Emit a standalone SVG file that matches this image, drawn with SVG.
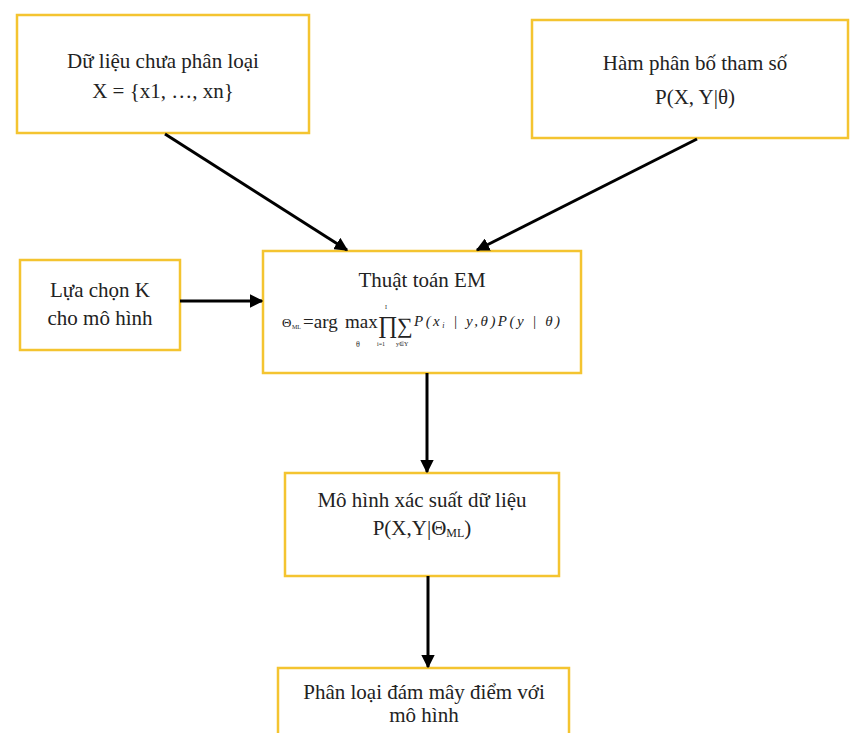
<svg xmlns="http://www.w3.org/2000/svg" width="856" height="733" viewBox="0 0 856 733">
<defs>
<marker id="ah" viewBox="0 0 10 10" refX="9" refY="5" markerWidth="4.5" markerHeight="4.5" orient="auto" markerUnits="strokeWidth">
<path d="M0,0 L10,5 L0,10 z" fill="#000"/>
</marker>
</defs>
<style>
.box{fill:#fff;stroke:#F4C430;stroke-width:2.5}
.t{font-family:"Liberation Serif","Times New Roman",serif;font-size:21px;fill:#222;text-anchor:middle}
.f{font-family:"Liberation Serif","Times New Roman",serif;fill:#222}
.c{stroke:#000;stroke-width:3;fill:none;marker-end:url(#ah)}
</style>
<rect width="856" height="733" fill="#fff"/>
<g id="n1">
<rect class="box" x="17" y="15" width="292" height="118"/>
<text class="t" x="163" y="68">Dữ liệu chưa phân loại</text>
<text class="t" x="163" y="98">X = {x1, …, xn}</text>
</g>
<g id="n2">
<rect class="box" x="532" y="20" width="316" height="118"/>
<text class="t" x="695" y="70">Hàm phân bố tham số</text>
<text class="t" x="695" y="104">P(X, Y|θ)</text>
</g>
<g id="n3">
<rect class="box" x="20" y="260" width="160" height="90"/>
<text class="t" x="100" y="297">Lựa chọn K</text>
<text class="t" x="100" y="325">cho mô hình</text>
</g>
<g id="n4">
<rect class="box" x="263" y="251" width="318" height="122"/>
<text class="t" x="422" y="287">Thuật toán EM</text>
<text class="f" x="282" y="327" font-size="13">Θ</text>
<text class="f" x="292" y="329" font-size="6">ML</text>
<text class="f" x="303" y="328" font-size="19">=arg</text>
<text class="f" x="345" y="328" font-size="19">max</text>
<text class="f" x="356" y="347" font-size="8">θ</text>
<text class="f" x="378" y="333" font-size="24">∏</text>
<text class="f" x="377" y="346" font-size="6">i=1</text>
<text class="f" x="385" y="309" font-size="6">I</text>
<text class="f" x="397" y="333" font-size="22">∑</text>
<text class="f" x="396" y="346" font-size="6">y∈Y</text>
<text class="f" x="414" y="326" font-size="15" font-style="italic" textLength="146" lengthAdjust="spacing">P(x<tspan font-size="8" dy="2">i</tspan><tspan dy="-2"> | y,θ)P(y | θ)</tspan></text>
</g>
<g id="n5">
<rect class="box" x="285" y="473" width="274" height="103"/>
<text class="t" x="422" y="507">Mô hình xác suất dữ liệu</text>
<text class="t" x="422" y="535">P(X,Y|Θ<tspan font-size="12" dy="2">ML</tspan><tspan dy="-2">)</tspan></text>
</g>
<g id="n6">
<rect class="box" x="278" y="668" width="291" height="80"/>
<text class="t" x="424" y="699">Phân loại đám mây điểm với</text>
<text class="t" x="424" y="722">mô hình</text>
</g>
<g id="connectors">
<line class="c" x1="165" y1="134" x2="347" y2="250"/>
<line class="c" x1="697" y1="139" x2="477" y2="250"/>
<line class="c" x1="180" y1="301" x2="262" y2="301"/>
<line class="c" x1="427" y1="373" x2="427" y2="472"/>
<line class="c" x1="428" y1="576" x2="428" y2="667"/>
</g>
</svg>
